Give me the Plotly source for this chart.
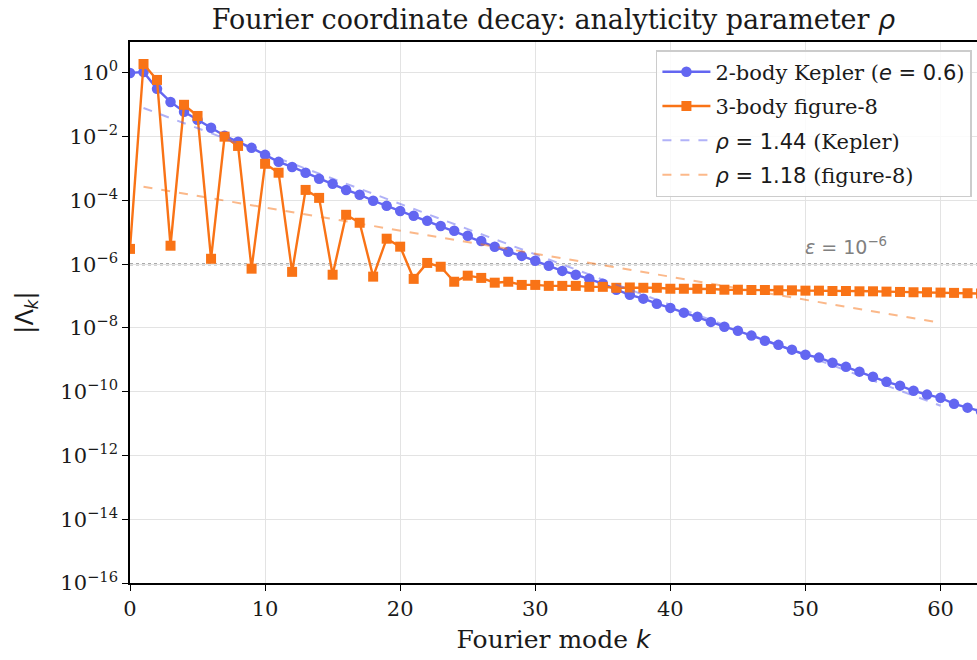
import plotly.graph_objects as go

# ---- data ----
k_kepler = list(range(0, 64))
log_kepler = [0.0, 0.03, -0.50, -0.91, -1.22, -1.47, -1.72, -1.97, -2.16, -2.35,
              -2.57, -2.79, -2.95, -3.13, -3.32, -3.48, -3.67, -3.82, -4.01, -4.17,
              -4.33, -4.48, -4.64, -4.80, -4.95, -5.11, -5.27, -5.45, -5.61, -5.74,
              -5.89, -6.05, -6.21, -6.33, -6.46, -6.61, -6.80, -6.96, -7.08, -7.24,
              -7.37, -7.52, -7.65, -7.81, -7.96, -8.09, -8.24, -8.40, -8.53, -8.68,
              -8.84, -8.93, -9.09, -9.22, -9.37, -9.53, -9.69, -9.81, -9.97, -10.09,
              -10.19, -10.38, -10.50, -10.62]
kepler = [10 ** v for v in log_kepler]

k_fig8 = list(range(0, 64))
log_fig8 = [-5.52, 0.28, -0.22, -5.42, -1.00, -1.35, -5.83, -2.00, -2.29, -6.14,
            -2.85, -3.13, -6.24, -3.67, -3.92, -6.33, -4.45, -4.70, -6.39, -5.20,
            -5.45, -6.46, -5.96, -6.08, -6.55, -6.36, -6.43, -6.58, -6.55, -6.65,
            -6.65, -6.68, -6.68, -6.68, -6.71, -6.71, -6.74, -6.73, -6.74, -6.74,
            -6.77, -6.77, -6.77, -6.78, -6.80, -6.80, -6.81, -6.81, -6.82, -6.82,
            -6.83, -6.83, -6.84, -6.84, -6.85, -6.85, -6.86, -6.87, -6.88, -6.88,
            -6.89, -6.90, -6.91, -6.92]
fig8 = [10 ** v for v in log_fig8]

fit_k = [1, 60]
fit_kepler = [10 ** -1.10, 10 ** -10.44]   # rho = 1.44
fit_fig8 = [10 ** -3.57, 10 ** -7.84]      # rho = 1.18

eps = 1e-6

tick_exps = [0, -2, -4, -6, -8, -10, -12, -14, -16]
x_ticks = [0, 10, 20, 30, 40, 50, 60]

# ---- styling ----
BLUE = "#6366F1"
ORANGE = "#F97316"
SERIF = "DejaVu Serif"
SANS = "DejaVu Sans"
TXT = "#1a1a1a"

def sans(t, italic=False):
    style = f"font-family:{SANS}"
    if italic:
        return f"<i><span style='{style}'>{t}</span></i>"
    return f"<span style='{style}'>{t}</span>"

fig = go.Figure()

fig.add_trace(go.Scatter(
    x=k_kepler, y=kepler, mode="lines+markers", legendgroup="a",
    name="2-body Kepler (" + sans("e", True) + sans(" = 0.6") + ")",
    line=dict(color=BLUE, width=2.4),
    marker=dict(symbol="circle", size=10.5, color=BLUE),
))
fig.add_trace(go.Scatter(
    x=k_fig8, y=fig8, mode="lines+markers", legendgroup="b",
    name="3-body figure-8",
    line=dict(color=ORANGE, width=2.4),
    marker=dict(symbol="square", size=10, color=ORANGE),
))
fig.add_trace(go.Scatter(
    x=fit_k, y=fit_kepler, mode="lines", legendgroup="c",
    name=sans("ρ", True) + sans(" = 1.44") + " (Kepler)",
    line=dict(color=BLUE, width=2, dash="dash"), opacity=0.5,
))
fig.add_trace(go.Scatter(
    x=fit_k, y=fit_fig8, mode="lines", legendgroup="d",
    name=sans("ρ", True) + sans(" = 1.18") + " (figure-8)",
    line=dict(color=ORANGE, width=2, dash="dash"), opacity=0.5,
))

fig.add_shape(type="line", xref="paper", x0=0, x1=1, yref="y", y0=eps, y1=eps,
              line=dict(color="#aaaaaa", width=2.4, dash="dot"), layer="below")

fig.add_annotation(x=53, y=-5.42, xref="x", yref="y",
                   text=sans("ε", True) + sans(" = 10<sup>−6</sup>"),
                   showarrow=False, font=dict(color="#808080", size=19, family=SANS))

common = dict(showline=True, linecolor="black", linewidth=1.6,
              ticks="outside", ticklen=6, tickwidth=1.4, tickcolor="black",
              showgrid=True, gridcolor="#e3e3e3", gridwidth=1.4,
              zeroline=False, tickfont=dict(family=SERIF, size=21, color=TXT))

fig.update_xaxes(range=[0, 62.7], tickvals=x_ticks, mirror=True,
                 title=dict(text="Fourier mode " + sans("k", True),
                            font=dict(family=SERIF, size=25, color=TXT), standoff=10),
                 **common)
fig.update_yaxes(type="log", range=[-16, 0.97], mirror=False,
                 tickvals=[10 ** e for e in tick_exps],
                 ticktext=[f"10<sup>{str(e).replace('-', '−')}</sup>" for e in tick_exps],
                 title=dict(text="|Λ<sub><i>k</i></sub>|",
                            font=dict(family=SANS, size=24, color=TXT), standoff=20),
                 **common)

fig.update_layout(
    width=977, height=660,
    margin=dict(l=130, r=0, t=42, b=77),
    paper_bgcolor="white", plot_bgcolor="white",
    title=dict(text="Fourier coordinate decay: analyticity parameter " + sans("ρ", True),
               x=0.5665, xanchor="center", y=0.971, yanchor="middle",
               font=dict(family=SERIF, size=27, color=TXT)),
    font=dict(family=SERIF, color=TXT),
    legend=dict(x=0.994, y=0.985, xanchor="right", yanchor="top",
                bgcolor="rgba(255,255,255,0.85)", bordercolor="#cccccc", borderwidth=1.5,
                font=dict(family=SERIF, size=21, color=TXT),
                itemwidth=48, tracegroupgap=4),
    showlegend=True,
)

# remove the page's default body margin so the figure fills the window exactly
fig.write_html("out.html", config={"displayModeBar": False},
               post_script="document.body.style.margin='0';document.body.style.overflow='hidden';")
